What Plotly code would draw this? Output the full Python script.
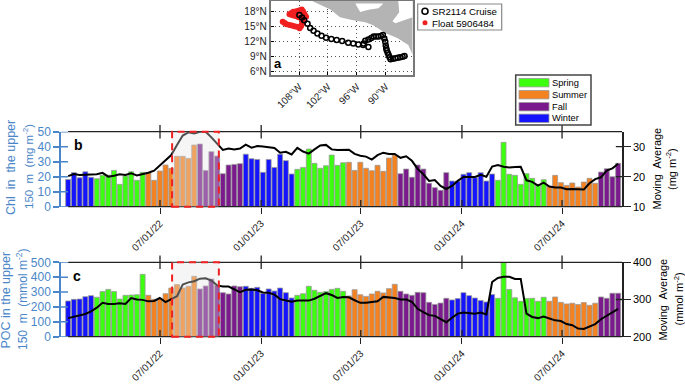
import pandas as pd
import plotly.graph_objects as go

W, H = 685, 384
FONT = "Liberation Sans"
BLUE = "#4A86C8"

chl = [18.2,22.7,19.3,23.3,19.6,18.7,21,21,24.2,14.9,20.4,23.3,17.6,22.9,22.7,17.6,23.8,27.8,25.6,33.6,33.6,32.2,41.1,41.8,24.2,36.7,33.8,22,27.8,28.2,28.7,
       35,32,31.5,22.9,31.5,26.2,35,30.7,21.8,24.9,26.2,38.4,28.9,25.6,27.3,34.4,27.6,29.3,29.6,24.2,29.6,25.6,24,27.6,23.6,32.4,34.4,22,25.1,19.6,27.8,25.1,15.6,12.7,10.9,22.7,
       17.1,17,21.6,22.7,19.3,22.7,17.1,21.8,17.6,42.9,21.6,20.9,14.9,22,18.9,14.9,18,13.6,20.9,16,14.2,15.8,13.1,16.4,18.9,15.6,23.1,25.3,20,28.9]
poc = [240,251,253,269,276,265,303,318,303,253,278,280,282,419,278,251,253,289,327,350,327,339,406,321,341,388,345,296,287,341,336,
       339,325,332,291,321,307,327,296,260,278,289,339,312,298,303,318,325,305,274,316,282,271,287,305,294,323,352,305,287,278,298,296,231,217,226,258,
       247,256,296,276,260,244,233,283,258,498,317,261,238,256,258,238,265,238,267,231,220,225,216,229,211,225,267,258,292,292]
chl_ma = [20.2,20.9,20.6,20.6,20.6,20.8,21.3,20,20.3,20.8,20.6,21.1,20.4,20.8,21.3,22,23.7,25.6,27.2,30.6,33.7,34.8,34.4,35,35,33.1,30.9,28.9,29.4,29.1,29.4,
          30.7,29.7,30.2,30.1,29.9,29.6,28,28.3,27.4,29.6,28.4,27.7,29.1,30.4,30.6,29.1,28.9,28.9,29,27.6,27,26.7,25.7,27.2,28,27.6,27.6,26.3,26.8,25.3,22.6,20.8,18.6,18.9,16.9,15.9,
          16.9,18.6,19.9,19.9,19.9,20.6,20,23.4,23.9,23.3,23.1,23.2,23.3,18.8,18.3,17,18,16.7,16.4,16.4,15.8,15.9,15.7,15.7,17.8,19.2,19.8,22,22.8,24.3]
poc_ma = [250,254,257,261,268,278,291,288,288,290,288,304,300,299,295,296,304,293,301,309,340,346,349,356,357,351,338,335,335,328,320,
          326,327,325,319,318,313,301,298,294,297,296,297,302,310,317,312,304,307,306,298,291,291,294,295,307,306,304,300,300,294,275,266,258,256,247,239,
          251,262,265,264,262,265,260,347,358,361,361,355,355,262,253,250,254,249,244,242,234,231,222,221,228,234,247,256,265,275]
seasons = ["Winter"]*5 + ["Spring"]*9 + ["Summer"]*9 + ["Fall"]*8 + ["Winter"]*9 + ["Spring"]*9 + ["Summer"]*9 + ["Fall"]*9 + ["Winter"]*8 + ["Spring"]*9 + ["Summer"]*9 + ["Fall"]*4
season_colors = {"Spring": "#3CFF10", "Summer": "#F58220", "Fall": "#7A1A8C", "Winter": "#1414FF"}
first_date, last_date = "2022-01-15", "2024-10-11"
tick_dates = ["2022-07-01", "2023-01-01", "2023-07-01", "2024-01-01", "2024-07-01"]
tick_text = ["07/01/22", "01/01/23", "07/01/23", "01/01/24", "07/01/24"]
highlight = ["2022-07-23", "2022-10-16"]
x_range = ["2022-01-02", "2024-10-18"]

cruise_lon = [-86.1,-86.5,-87,-87.5,-88,-88.5,-89,-89.2,-89.4,-89.6,-89.8,-89.9,-90,-90.1,-90.3,-90.6,-91,-91.5,-92,-92.5,-93,-93.6,-94.25,-94.6,-93.6,-94.7,-95.7,-96.75,-97.8,-99.05,-100.2,-101.3,-102.4,-103.35,-104.2,-105,-105.7,-106.25,-106.95,-107.4,-107.95]
cruise_lat = [9.05,8.9,8.8,8.7,8.6,8.5,8.4,8.8,9.25,9.7,10.2,10.6,11.2,11.95,12.6,13.3,13.1,13,13,13,12.7,12.4,12.15,11.6,10.9,11.3,11.4,11.6,11.75,12.1,12.3,12.5,12.75,13.15,13.6,14.15,14.75,15.6,16.3,16.85,17.35]
float_lon = [-111.4,-111,-110.6,-110,-109.5,-109,-108.5,-107.9,-107.6,-107.45,-107.2,-107,-107.5,-108.1,-108.6,-109.2,-109.6,-110,-109.6,-109.2,-108.6,-108.1,-107.8,-107.45,-107.2,-107,-106.8,-106.55]
float_lat = [16,15.75,15.5,15.35,15.25,15.1,15,14.7,15.1,15.5,15.9,16.3,16.6,16.9,17.1,17.25,17.4,17.5,17.75,18,18.1,18.2,18.35,18.5,18.1,17.7,17.35,17]
land_lon = [-105.3,-101.5,-99.5,-96.8,-94.25,-92.6,-90.1,-87.6,-85.3,-84.4,-84.4]
land_lat = [20.2,18.5,16.9,16.3,15.9,15.3,13.7,12.7,11.3,9.25,20.2]
gulf1_lon = [-96.3,-90.5,-91.5,-93.6,-95.3,-95.9]
gulf1_lat = [19.7,19.7,18.75,18.45,17.95,18.95]
gulf2_lon = [-87.4,-84.4,-84.4,-88,-88.6,-87.2]
gulf2_lat = [20.2,20.2,16.9,15.7,16.1,17.9]
map_lon_ticks = [-108,-102,-96,-90]
map_lon_text = ["108°W","102°W","96°W","90°W"]
map_lat_ticks = [6,9,12,15,18]
map_lat_text = ["6°N","9°N","12°N","15°N","18°N"]

def px(x): return x / W
def py(y): return 1 - y / H

dates = pd.date_range(first_date, last_date, periods=len(chl))
fig = go.Figure()
BAR_MS = 9 * 86400000

def add_bars(values, xa, ya):
    for s, c in season_colors.items():
        idx = [i for i, v in enumerate(seasons) if v == s]
        fig.add_trace(go.Bar(x=[dates[i] for i in idx], y=[values[i] for i in idx], width=BAR_MS,
                             marker=dict(color=c, line=dict(color="#999999", width=0.8)),
                             xaxis=xa, yaxis=ya, showlegend=False))

add_bars(chl, "x", "y")
fig.add_trace(go.Scatter(x=dates, y=chl_ma, mode="lines", line=dict(color="black", width=2), xaxis="x", yaxis="y2", showlegend=False))
add_bars(poc, "x2", "y3")
fig.add_trace(go.Scatter(x=dates, y=poc_ma, mode="lines", line=dict(color="black", width=2), xaxis="x2", yaxis="y4", showlegend=False))

# map
fig.add_trace(go.Scatter(x=land_lon, y=land_lat, fill="toself", fillcolor="#B4B4B4", mode="none", xaxis="x3", yaxis="y5", showlegend=False))
for lo, la in ((gulf1_lon, gulf1_lat), (gulf2_lon, gulf2_lat)):
    fig.add_trace(go.Scatter(x=lo, y=la, fill="toself", fillcolor="white", mode="none", xaxis="x3", yaxis="y5", showlegend=False))
fig.add_trace(go.Scatter(x=float_lon, y=float_lat, mode="markers", marker=dict(color="#F02020", size=6), xaxis="x3", yaxis="y5", showlegend=False))
fig.add_trace(go.Scatter(x=cruise_lon, y=cruise_lat, mode="markers", marker=dict(color="rgba(0,0,0,0)", size=5, line=dict(color="black", width=1.5)), xaxis="x3", yaxis="y5", showlegend=False))

shapes, ann = [], []
def txt(x, y, s, size=10.5, color="black", angle=0, bold=False, xanchor="center"):
    ann.append(dict(x=px(x), y=py(y), xref="paper", yref="paper", text=f"<b>{s}</b>" if bold else s, showarrow=False,
                    font=dict(family=FONT, size=size, color=color), textangle=angle, xanchor=xanchor, yanchor="middle", borderpad=0))

for xa, ya, ra, right_vals, left_vals in (("x", "y", "y2", [10, 20, 30], [0, 10, 20, 30, 40, 50]), ("x2", "y3", "y4", [200, 300, 400], [0, 100, 200, 300, 400, 500])):
    xd = f"{xa} domain"; yd = f"{ya} domain"
    for y in (0, 1):
        shapes.append(dict(type="line", xref=xa, yref=yd, x0=first_date, x1=x_range[1], y0=y, y1=y, line=dict(color="#222", width=1.3)))
    for d in tick_dates:
        shapes.append(dict(type="line", xref=xa, yref=yd, x0=d, x1=d, y0=0, y1=0.09, line=dict(color="#222", width=1.3)))
        shapes.append(dict(type="line", xref=xa, yref=yd, x0=d, x1=d, y0=0.91, y1=1.09, line=dict(color="#222", width=1.3)))
    for v in right_vals:
        shapes.append(dict(type="line", xref=xd, yref=ra, x0=0.989, x1=1, y0=v, y1=v, line=dict(color="#222", width=1.3)))
    for v in left_vals:
        shapes.append(dict(type="line", xref=xd, yref=ya, x0=0, x1=0.0125, y0=v, y1=v, line=dict(color=BLUE, width=1.5)))
    shapes.append(dict(type="rect", xref=xa, yref=yd, x0=highlight[0], x1=highlight[1], y0=0, y1=1, line=dict(width=0), fillcolor="rgba(226,226,226,0.35)"))
    shapes.append(dict(type="rect", xref=xa, yref=yd, x0=highlight[0], x1=highlight[1], y0=0, y1=1, line=dict(color="#F02020", width=2, dash="7px,5px"), fillcolor="rgba(0,0,0,0)"))

# season legend
shapes.append(dict(type="rect", xref="paper", yref="paper", x0=px(515.7), x1=px(591), y0=py(75), y1=py(125), line=dict(color="#444", width=1.5), fillcolor="white"))
for name, yc in zip(["Spring", "Summer", "Fall", "Winter"], [82.7, 94.7, 106.7, 118.3]):
    shapes.append(dict(type="rect", xref="paper", yref="paper", x0=px(519), x1=px(549), y0=py(yc - 4.2), y1=py(yc + 4.2), line=dict(color="#9A9A9A", width=0.8), fillcolor=season_colors[name]))
    txt(550.5, yc, name, 9.3, xanchor="left")
# map legend
shapes.append(dict(type="rect", xref="paper", yref="paper", x0=px(417.7), x1=px(501.7), y0=py(4), y1=py(30), line=dict(color="#888", width=1.2), fillcolor="white"))
shapes.append(dict(type="circle", xref="paper", yref="paper", x0=px(422), x1=px(428), y0=py(8.3), y1=py(14.3), line=dict(color="black", width=1.6), fillcolor="white"))
shapes.append(dict(type="circle", xref="paper", yref="paper", x0=px(422.5), x1=px(427.5), y0=py(20.2), y1=py(25.2), line=dict(width=0), fillcolor="#F02020"))
txt(431, 11.3, "SR2114 Cruise", 9.7, xanchor="left")
txt(431, 23, "Float 5906484", 9.7, xanchor="left")

txt(278, 63, "a", 13, bold=True)
txt(78, 145, "b", 14, bold=True)
txt(77, 276, "c", 14, bold=True)
txt(11, 168, "Chl  in  the upper", 12.5, BLUE, -90)
txt(28, 167, "150  m  (mg m<sup>-2</sup>)", 11.5, BLUE, -90)
txt(5.5, 300, "POC in the upper", 12.5, BLUE, -90)
txt(22, 300, "150  m  (mmol m<sup>-2</sup>)", 12, BLUE, -90)
txt(656.5, 169, "Moving  Average", 11, "black", -90)
txt(671, 169, "(mg m<sup>-2</sup>)", 11, "black", -90)
txt(662, 299.5, "Moving  Average", 11, "black", -90)
txt(678, 299.5, "(mmol m<sup>-2</sup>)", 11, "black", -90)

def xaxis(anchor, dom):
    return dict(domain=dom, anchor=anchor, type="date", range=x_range, tickvals=tick_dates, ticktext=tick_text, tickangle=-45,
                ticks="outside", ticklen=6, tickwidth=1.3, tickcolor="#222", showgrid=False, zeroline=False, showline=False,
                tickfont=dict(family=FONT, size=10, color="#222"))
def left(dom, rng, vals, anchor):
    return dict(domain=dom, anchor=anchor, range=rng, tickvals=vals, ticks="outside", ticklen=6, tickwidth=1.5, tickcolor=BLUE,
                showline=True, linecolor=BLUE, linewidth=1.5, showgrid=False, zeroline=False, tickfont=dict(family=FONT, size=12, color=BLUE))
def right(rng, vals, anchor, over):
    return dict(overlaying=over, side="right", anchor=anchor, range=rng, tickvals=vals, ticks="outside", ticklen=7, tickwidth=1.3, tickcolor="#222",
                showline=True, linecolor="#222", linewidth=1.5, showgrid=False, zeroline=False, tickfont=dict(family=FONT, size=11, color="black"))

GRID = dict(showgrid=True, gridcolor="#555", griddash="1px,3px", gridwidth=1, zeroline=False, ticks="inside", ticklen=3, tickcolor="black",
            showline=True, mirror=True, linecolor="#777", linewidth=2, tickfont=dict(family=FONT, size=10, color="#222"), layer="above traces")
xdom = [px(61), px(622)]
fig.update_layout(
    width=W, height=H, margin=dict(l=0, r=0, t=0, b=0, autoexpand=False), paper_bgcolor="white", plot_bgcolor="white",
    barmode="overlay", shapes=shapes, annotations=ann, showlegend=False, font=dict(family=FONT),
    xaxis=xaxis("y", xdom), yaxis=left([py(206.7), py(131.7)], [0, 50], [0, 10, 20, 30, 40, 50], "x"),
    yaxis2=right([10, 35], [10, 20, 30], "x", "y"),
    xaxis2=xaxis("y3", xdom), yaxis3=left([py(336.7), py(262.3)], [0, 500], [0, 100, 200, 300, 400, 500], "x2"),
    yaxis4=right([200, 400], [200, 300, 400], "x2", "y3"),
    xaxis3=dict(domain=[px(270.7), px(412.7)], anchor="y5", range=[-113.9, -84.4], tickvals=map_lon_ticks, ticktext=map_lon_text, tickangle=-45, **GRID),
    yaxis5=dict(domain=[py(75), py(1)], anchor="x3", range=[5.2, 20.2], tickvals=map_lat_ticks, ticktext=map_lat_text, **GRID),
)
fig.write_html("out.html", config={"displayModeBar": False}, post_script="document.body.style.margin='0';")
